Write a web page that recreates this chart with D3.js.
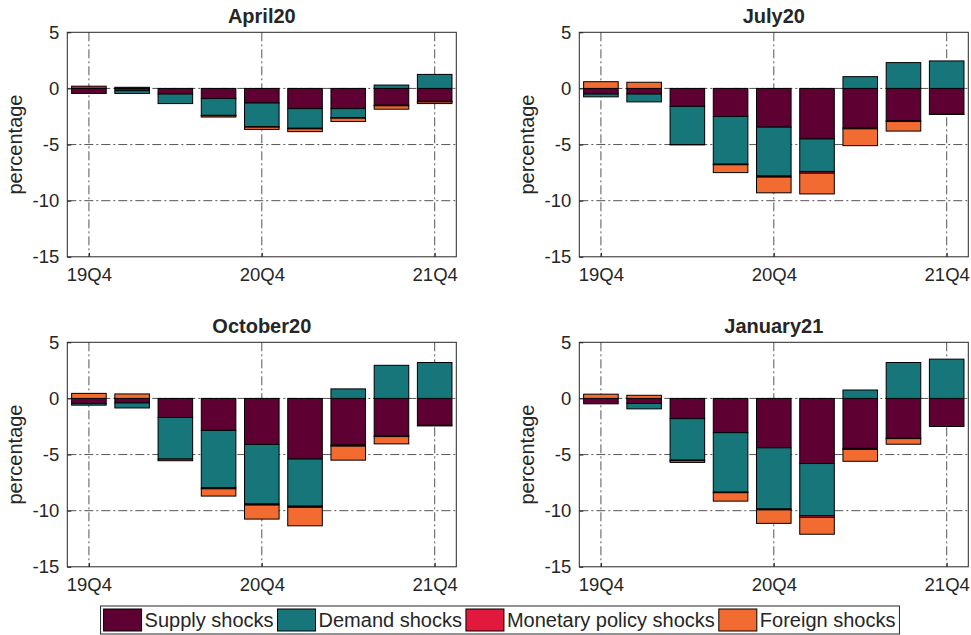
<!DOCTYPE html>
<html>
<head>
<meta charset="utf-8">
<script src="https://cdn.jsdelivr.net/npm/d3@7"></script>
<style>
  body { margin: 0; background: #fff; }
  text { font-family: "Liberation Sans", Arial, sans-serif; fill: #262626; }
</style>
</head>
<body>
<svg id="chart" width="971" height="635"></svg>
<script>
// quarters on the x axis, only some get a label
const quarters = ["19Q4", "20Q1", "20Q2", "20Q3", "20Q4", "21Q1", "21Q2", "21Q3", "21Q4"];
const labelledQuarters = ["19Q4", "20Q4", "21Q4"];
const yTicks = [-15, -10, -5, 0, 5];

const shockNames = ["Supply shocks", "Demand shocks", "Monetary policy shocks", "Foreign shocks"];
const shockColors = ["#5f0033", "#17767a", "#e2183c", "#f26b31"];

// April20 vintage
const april20Supply   = [-0.45, -0.2, -0.5, -0.9, -1.3, -1.8, -1.8, -1.5, -1.15];
const april20Demand   = [0, -0.25, -0.85, -1.5, -2.1, -1.75, -0.8, 0.3, 1.25];
const april20Monetary = [0.2, 0.1, 0, -0.03, -0.05, -0.05, -0.05, -0.05, -0.05];
const april20Foreign  = [0, 0, 0, -0.12, -0.2, -0.25, -0.3, -0.3, -0.15];

// July20 vintage
const july20Supply   = [-0.5, -0.5, -1.6, -2.5, -3.45, -4.5, -3.5, -2.9, -2.3];
const july20Demand   = [-0.25, -0.7, -3.4, -4.25, -4.35, -2.9, 1.05, 2.3, 2.45];
const july20Monetary = [0, 0, -0.03, -0.05, -0.1, -0.15, -0.1, -0.05, -0.02];
const july20Foreign  = [0.6, 0.55, 0, -0.7, -1.4, -1.85, -1.5, -0.85, 0];

// October20 vintage
const october20Supply   = [-0.45, -0.4, -1.7, -2.85, -4.1, -5.4, -4.15, -3.35, -2.4];
const october20Demand   = [-0.15, -0.45, -3.7, -5.1, -5.3, -4.2, 0.85, 2.95, 3.2];
const october20Monetary = [0, 0, -0.15, -0.1, -0.1, -0.1, -0.1, -0.05, -0.05];
const october20Foreign  = [0.45, 0.4, 0, -0.65, -1.25, -1.65, -1.25, -0.65, 0];

// January21 vintage
const january21Supply   = [-0.48, -0.45, -1.8, -3.05, -4.4, -5.8, -4.45, -3.55, -2.5];
const january21Demand   = [0, -0.48, -3.7, -5.3, -5.45, -4.65, 0.75, 3.2, 3.5];
const january21Monetary = [0, 0, -0.05, -0.05, -0.08, -0.15, -0.1, -0.03, 0];
const january21Foreign  = [0.38, 0.28, -0.15, -0.75, -1.2, -1.5, -1.05, -0.5, 0];

const panels = [
    { title: "April20",   series: [april20Supply, april20Demand, april20Monetary, april20Foreign],           left: 67.3,  top: 32.3 },
    { title: "July20",    series: [july20Supply, july20Demand, july20Monetary, july20Foreign],               left: 579.3, top: 32.3 },
    { title: "October20", series: [october20Supply, october20Demand, october20Monetary, october20Foreign],   left: 67.3,  top: 342.3 },
    { title: "January21", series: [january21Supply, january21Demand, january21Monetary, january21Foreign],   left: 579.3, top: 342.3 }
];

const width = 389;
const height = 224.5;
const svg = d3.select("#chart");

panels.forEach(p => {
    const g = svg.append("g").attr("transform", `translate(${p.left},${p.top})`);

    const x = d3.scaleLinear().domain([0.5, quarters.length + 0.5]).range([0, width]);
    const y = d3.scaleLinear().domain([-15, 5]).range([height, 0]);

    // dash-dot grid
    g.append("g").selectAll("line.hgrid")
        .data(yTicks.slice(1, -1))
        .enter().append("line")
        .attr("x1", 0).attr("x2", width)
        .attr("y1", d => y(d)).attr("y2", d => y(d))
        .attr("stroke", "#555").attr("stroke-width", 1)
        .attr("stroke-dasharray", "9 3 2 3");

    g.append("g").selectAll("line.vgrid")
        .data(labelledQuarters)
        .enter().append("line")
        .attr("x1", d => x(quarters.indexOf(d) + 1)).attr("x2", d => x(quarters.indexOf(d) + 1))
        .attr("y1", 0).attr("y2", height)
        .attr("stroke", "#555").attr("stroke-width", 1)
        .attr("stroke-dasharray", "9 3 2 3");

    // positives stack up from zero, negatives stack down
    const rows = quarters.map((q, i) => ({ pos: i + 1, v: p.series.map(s => s[i]) }));
    const stacked = d3.stack()
        .keys([0, 1, 2, 3])
        .value((d, k) => d.v[k])
        .offset(d3.stackOffsetDiverging)(rows);

    const barW = x(0.8) - x(0);
    stacked.forEach((layer, k) => {
        g.append("g").selectAll("rect")
            .data(layer.filter(d => d[1] !== d[0]))
            .enter().append("rect")
            .attr("x", d => x(d.data.pos) - barW / 2)
            .attr("y", d => y(Math.max(d[0], d[1])))
            .attr("width", barW)
            .attr("height", d => Math.abs(y(d[0]) - y(d[1])))
            .attr("fill", shockColors[k])
            .attr("stroke", "#000")
            .attr("stroke-width", 1);
    });

    // axes with inward ticks
    const yAxis = g.append("g")
        .call(d3.axisLeft(y).tickValues(yTicks).tickFormat(d => String(d)).tickSize(-4).tickPadding(8));
    const xAxis = g.append("g")
        .attr("transform", `translate(0,${height})`)
        .call(d3.axisBottom(x)
            .tickValues(labelledQuarters.map(q => quarters.indexOf(q) + 1))
            .tickFormat(d => quarters[d - 1])
            .tickSize(-4).tickPadding(11));
    [yAxis, xAxis].forEach(a => {
        a.select(".domain").remove();
        a.selectAll("line").attr("stroke", "#262626");
        a.selectAll("text").style("font-size", "18.5px").attr("fill", "#262626");
    });

    // box
    g.append("rect")
        .attr("width", width).attr("height", height)
        .attr("fill", "none").attr("stroke", "#262626").attr("stroke-width", 1);

    g.append("text")
        .attr("x", width / 2).attr("y", -9)
        .attr("text-anchor", "middle")
        .style("font-size", "20px").style("font-weight", "bold")
        .attr("fill", "#000")
        .text(p.title);

    g.append("text")
        .attr("transform", `translate(-45,${height / 2}) rotate(-90)`)
        .attr("text-anchor", "middle")
        .style("font-size", "20px")
        .text("percentage");
});

// legend
const legend = svg.append("g");
const legendBox = legend.append("rect")
    .attr("y", 606).attr("height", 28)
    .attr("fill", "#fff").attr("stroke", "#262626").attr("stroke-width", 1);

let cursor = 0;
const items = legend.append("g");
shockNames.forEach((name, i) => {
    items.append("rect")
        .attr("x", cursor).attr("y", 609)
        .attr("width", 38).attr("height", 22)
        .attr("fill", shockColors[i]).attr("stroke", "#000");
    const t = items.append("text")
        .attr("x", cursor + 41).attr("y", 627)
        .style("font-size", "20px")
        .attr("fill", "#000")
        .text(name);
    cursor += 41 + t.node().getComputedTextLength() + 4;
});
const legendW = cursor + 3;
const legendX = 500 - legendW / 2;
items.attr("transform", `translate(${legendX + 3},0)`);
legendBox.attr("x", legendX).attr("width", legendW);
</script>
</body>
</html>
